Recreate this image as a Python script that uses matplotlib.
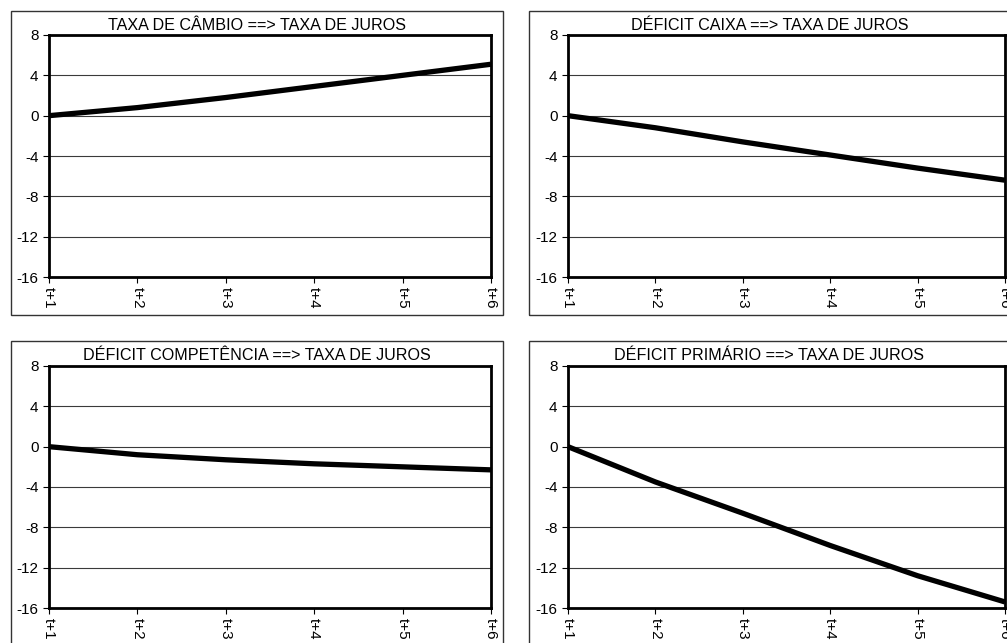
import matplotlib
matplotlib.use("Agg")
import matplotlib.pyplot as plt
from matplotlib.patches import Rectangle

plt.rcParams['font.family'] = ['Liberation Sans', 'DejaVu Sans']

periods = ["t+1", "t+2", "t+3", "t+4", "t+5", "t+6"]
titles = [
    "TAXA DE CÂMBIO ==> TAXA DE JUROS",
    "DÉFICIT CAIXA ==> TAXA DE JUROS",
    "DÉFICIT COMPETÊNCIA ==> TAXA DE JUROS",
    "DÉFICIT PRIMÁRIO ==> TAXA DE JUROS",
]
cambio = [0.0, 0.8, 1.8, 2.9, 4.0, 5.1]
deficit_caixa = [0.0, -1.2, -2.6, -3.9, -5.2, -6.4]
deficit_competencia = [0.0, -0.8, -1.3, -1.7, -2.0, -2.3]
deficit_primario = [0.0, -3.5, -6.6, -9.8, -12.8, -15.4]
series = [cambio, deficit_caixa, deficit_competencia, deficit_primario]
yticks = [8, 4, 0, -4, -8, -12, -16]

W, H = 1007, 643
fig = plt.figure(figsize=(W / 100, H / 100), dpi=100)

# pixel boxes: (left, top, right, bottom)
plot_boxes = [(49, 35, 491, 277), (568, 35, 1005, 277),
              (49, 366, 491, 608), (568, 366, 1005, 608)]
frame_boxes = [(10.5, 11, 503, 315), (529, 11, 1010, 315),
               (10.5, 341, 503, 646), (529, 341, 1010, 646)]

for i in range(4):
    fl, ft, fr, fb = frame_boxes[i]
    fig.patches.append(Rectangle((fl / W, 1 - fb / H), (fr - fl) / W, (fb - ft) / H,
                                 transform=fig.transFigure, fill=False,
                                 edgecolor='#333333', linewidth=1.0, zorder=0))
    fig.text((fl + fr) / 2 / W, 1 - (ft + 14.5) / H, titles[i], ha='center', va='center',
             fontsize=11.6)

    l, t, r, b = plot_boxes[i]
    ax = fig.add_axes([l / W, 1 - b / H, (r - l) / W, (b - t) / H])
    x = list(range(len(periods)))
    ax.plot(x, series[i], color='black', linewidth=3.8, solid_capstyle='butt',
            clip_on=False, zorder=5)
    ax.set_xlim(0, len(periods) - 1)
    ax.set_ylim(-16, 8)
    ax.set_yticks(yticks)
    ax.set_yticklabels([str(v) for v in yticks], fontsize=11)
    ax.set_xticks(x)
    ax.set_xticklabels(periods, rotation=270, fontsize=11)
    for yv in yticks:
        ax.axhline(yv, color='#3a3a3a', linewidth=0.8, zorder=1)
    for sp in ax.spines.values():
        sp.set_linewidth(2.0)
        sp.set_color('black')
    ax.tick_params(direction='out', length=4.5, width=0.8, pad=3, colors='black')

fig.savefig("out.png", dpi=100)
